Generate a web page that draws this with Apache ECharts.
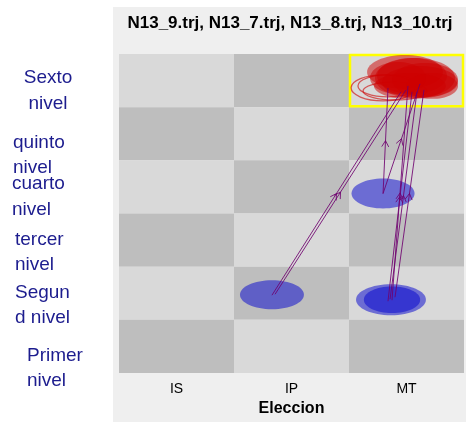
<!DOCTYPE html>
<html>
<head>
<meta charset="utf-8">
<script src="https://cdn.jsdelivr.net/npm/echarts@6/dist/echarts.min.js"></script>
<style>html,body{margin:0;padding:0;background:#fff;}#c{width:466px;height:422px;}</style>
</head>
<body>
<div id="c"></div>
<script>
// ---- data ----
const titleText = 'N13_9.trj, N13_7.trj, N13_8.trj, N13_10.trj';
const categories = ['IS', 'IP', 'MT'];
const xName = 'Eleccion';
// level labels (top to bottom), each split over two lines
const levelLabels = [
  ['Sexto', 'nivel'],
  ['quinto', 'nivel'],
  ['cuarto', 'nivel'],
  ['tercer', 'nivel'],
  ['Segun', 'd nivel'],
  ['Primer', 'nivel']
];
// cell shade per row (top row first), 0 = light, 1 = dark
const cellShades = [
  [0, 1, 0],
  [1, 0, 1],
  [0, 1, 0],
  [1, 0, 1],
  [0, 1, 0],
  [1, 0, 1]
];
// highlighted cell [col, row from bottom]
const highlightCell = [[2, 5]];
// red filled ellipses [x, y, rx, ry] (data units)
const redFilled = [
  [2.487, 5.663, 0.330, 0.319],
  [2.574, 5.550, 0.348, 0.375],
  [2.617, 5.475, 0.330, 0.300],
  [2.548, 5.588, 0.304, 0.338],
  [2.661, 5.513, 0.287, 0.319],
  [2.530, 5.400, 0.313, 0.244],
  [2.722, 5.400, 0.226, 0.244],
  [2.426, 5.550, 0.243, 0.300]
];
// red outlined ellipses
const redHollow = [
  [2.296, 5.363, 0.278, 0.244],
  [2.339, 5.400, 0.261, 0.206],
  [2.400, 5.306, 0.278, 0.169]
];
// blue ellipses
const blueFilled = [
  [2.296, 3.375, 0.274, 0.281],
  [1.330, 1.472, 0.278, 0.272],
  [2.365, 1.378, 0.304, 0.291],
  [2.374, 1.378, 0.245, 0.250]
];
// trajectory segments [x1, y1, x2, y2]
const segments = [
  [1.330, 1.463, 2.452, 5.288],
  [1.357, 1.481, 2.496, 5.325],
  [2.296, 3.375, 2.339, 5.363],
  [2.296, 3.375, 2.617, 5.438],
  [2.339, 1.350, 2.548, 5.288],
  [2.357, 1.388, 2.591, 5.288],
  [2.400, 1.425, 2.652, 5.325],
  [2.374, 1.369, 2.513, 5.400]
];

// ---- chart ----
const chart = echarts.init(document.getElementById('c'), null, {renderer: 'canvas'});
const FONT = '"Liberation Sans", Arial, sans-serif';
const shadeColors = ['#d9d9d9', '#bebebe'];

const cellData = [];
cellShades.forEach((row, ri) => {
  const r = cellShades.length - 1 - ri;
  row.forEach((s, c) => cellData.push([c, r, s]));
});

function ellipseSeries(data, fill, stroke, lw, z) {
  return {
    type: 'custom', xAxisIndex: 1, yAxisIndex: 0, z: z, silent: true,
    data: data,
    renderItem: function (params, api) {
      const p = api.coord([api.value(0), api.value(1)]);
      const rx = api.size([api.value(2), 0])[0];
      const ry = api.size([0, api.value(3)])[1];
      return {
        type: 'ellipse',
        shape: {cx: p[0], cy: p[1], rx: rx, ry: ry},
        style: {fill: fill, stroke: stroke, lineWidth: lw}
      };
    }
  };
}

const graphics = [
  {type: 'rect', z: -100, shape: {x: 113, y: 7, width: 353, height: 415}, style: {fill: '#efefef'}},
  {type: 'text', z: 100, x: 290, y: 23, style: {text: titleText, align: 'center', verticalAlign: 'middle', font: 'bold 17px ' + FONT, fill: '#000'}}
];
// level label positions
const labelPos = [
  {x: 48, y: [78, 104], align: 'center'},
  {x: 13, y: [143, 168], align: 'left'},
  {x: 12, y: [184, 210], align: 'left'},
  {x: 15, y: [240, 265], align: 'left'},
  {x: 15, y: [293, 318], align: 'left'},
  {x: 27, y: [356, 381], align: 'left'}
];
levelLabels.forEach((lines, i) => {
  lines.forEach((t, j) => {
    graphics.push({type: 'text', z: 100, x: labelPos[i].x, y: labelPos[i].y[j],
      style: {text: t, align: labelPos[i].align, verticalAlign: 'middle', font: '19px ' + FONT, fill: '#1c1c8e'}});
  });
});

const option = {
  animation: false,
  backgroundColor: '#ffffff',
  graphic: graphics,
  grid: {left: 119, top: 54, width: 345, height: 320, containLabel: false},
  xAxis: [
    {type: 'category', data: categories, gridIndex: 0, boundaryGap: true,
     axisLine: {show: false}, axisTick: {show: false}, splitLine: {show: false},
     axisLabel: {color: '#000', fontSize: 14, fontFamily: FONT, margin: 9},
     name: xName, nameLocation: 'middle', nameGap: 28,
     nameTextStyle: {color: '#000', fontSize: 16, fontWeight: 'bold', fontFamily: FONT}},
    {type: 'value', gridIndex: 0, min: 0, max: 3, interval: 1, show: false}
  ],
  yAxis: [
    {type: 'value', min: 0, max: 6, interval: 1, show: false}
  ],
  series: [
    {
      type: 'custom', xAxisIndex: 1, yAxisIndex: 0, z: 1, silent: true,
      data: cellData,
      renderItem: function (params, api) {
        const a = api.coord([api.value(0), api.value(1)]);
        const b = api.coord([api.value(0) + 1, api.value(1) + 1]);
        return {type: 'rect', shape: {x: a[0], y: b[1], width: b[0] - a[0], height: a[1] - b[1]},
          style: {fill: shadeColors[api.value(2)]}};
      }
    },
    {
      type: 'custom', xAxisIndex: 1, yAxisIndex: 0, z: 2, silent: true,
      data: highlightCell,
      renderItem: function (params, api) {
        const a = api.coord([api.value(0), api.value(1)]);
        const b = api.coord([api.value(0) + 1, api.value(1) + 1]);
        return {type: 'rect', shape: {x: a[0] + 1, y: b[1] + 1, width: b[0] - a[0] - 2, height: a[1] - b[1] - 2},
          style: {fill: 'none', stroke: '#ffff00', lineWidth: 2.5}};
      }
    },
    ellipseSeries(redHollow, 'none', 'rgba(205,0,0,0.6)', 1.3, 3),
    ellipseSeries(redFilled, 'rgba(205,0,0,0.5)', 'none', 0, 4),
    ellipseSeries(blueFilled, 'rgba(0,0,205,0.5)', 'none', 0, 4),
    {
      type: 'custom', xAxisIndex: 1, yAxisIndex: 0, z: 6, silent: true,
      data: segments,
      renderItem: function (params, api) {
        const p1 = api.coord([api.value(0), api.value(1)]);
        const p2 = api.coord([api.value(2), api.value(3)]);
        const mx = (p1[0] + p2[0]) / 2, my = (p1[1] + p2[1]) / 2;
        const ang = Math.atan2(p2[1] - p1[1], p2[0] - p1[0]);
        const L = 7, spread = Math.PI / 6;
        const w1 = [mx - L * Math.cos(ang - spread), my - L * Math.sin(ang - spread)];
        const w2 = [mx - L * Math.cos(ang + spread), my - L * Math.sin(ang + spread)];
        const st = {stroke: 'rgba(110,0,110,0.85)', lineWidth: 1, fill: 'none'};
        return {type: 'group', children: [
          {type: 'line', shape: {x1: p1[0], y1: p1[1], x2: p2[0], y2: p2[1]}, style: st},
          {type: 'polyline', shape: {points: [w1, [mx, my], w2]}, style: st}
        ]};
      }
    }
  ]
};
chart.setOption(option);
</script>
</body>
</html>
